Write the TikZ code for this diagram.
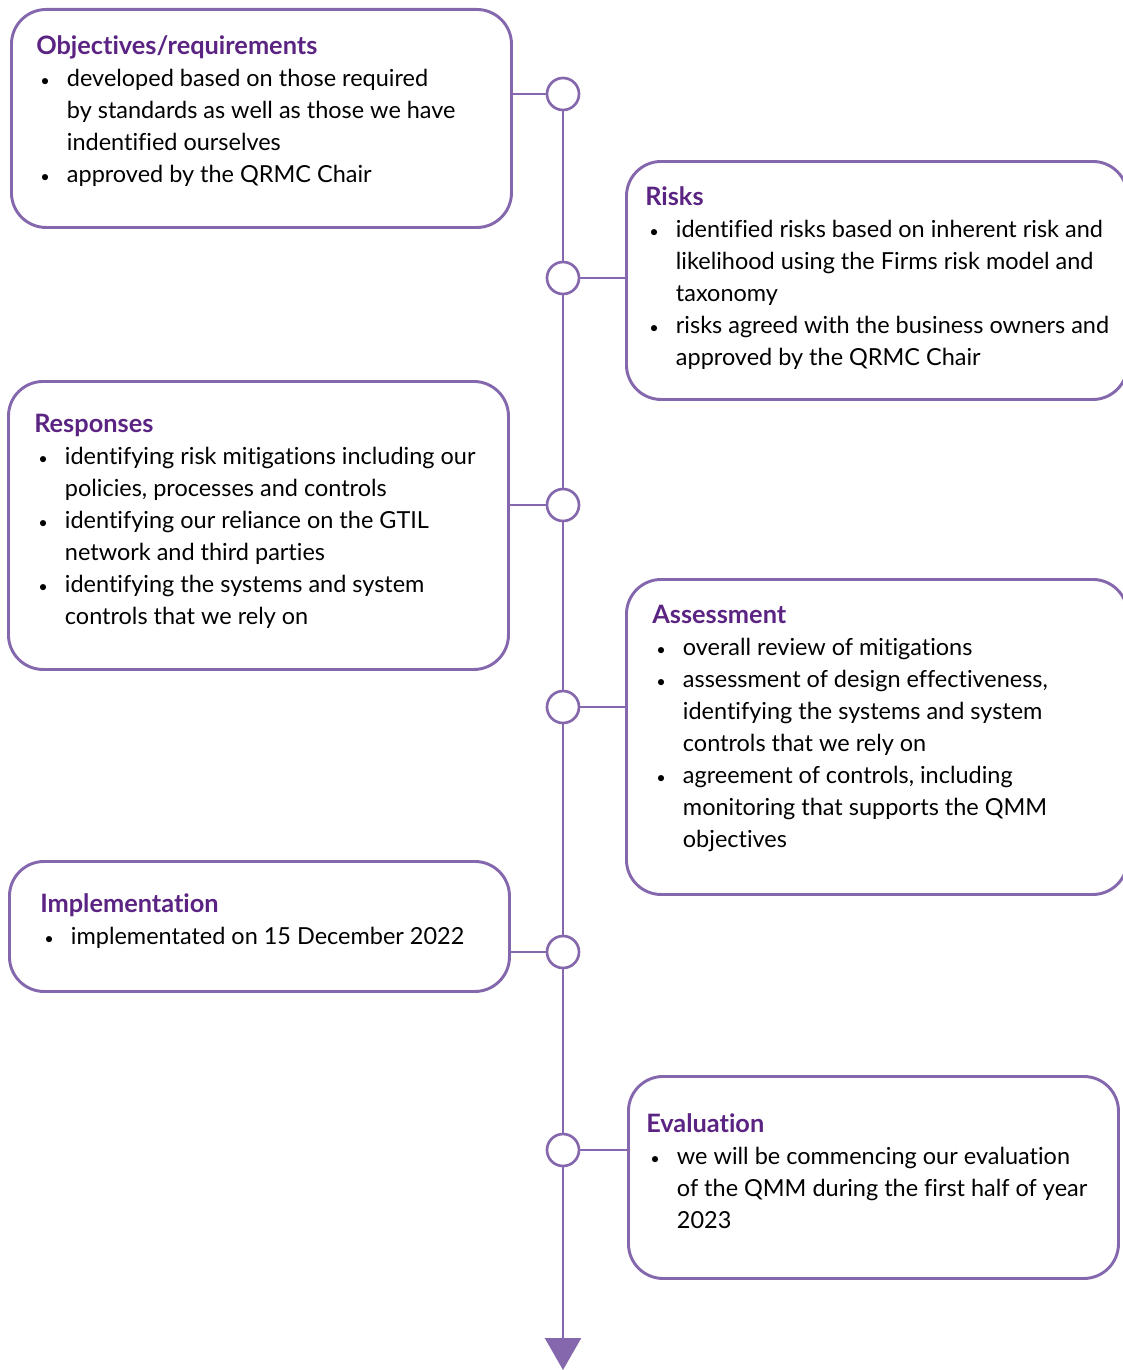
\documentclass[tikz,border=0pt]{standalone}
\usepackage{fontspec}
\setmainfont{Lato}[Ligatures=NoCommon]
\usepackage{xcolor}
\usepackage{graphicx}
\usepackage{tikz}
\usetikzlibrary{arrows.meta}

\definecolor{gtline}{HTML}{8467AD}
\definecolor{gttitle}{HTML}{5B2483}
\newcommand{\bl}{\makebox[23pt][l]{\hspace{3pt}\scalebox{0.7}{\textbullet}}}
\newcommand{\ind}{\hspace*{23pt}}
\newcommand{\hd}[1]{{\fontsize{19}{24}\selectfont\bfseries\color{gttitle}#1}}

\tikzset{
  stagebox/.style={draw=gtline, line width=2.2pt, rounded corners=26pt, anchor=north west, inner sep=0pt},
  stagedot/.style={circle, draw=gtline, fill=white, line width=2pt, minimum size=24pt, inner sep=0pt},
  tl/.style={draw=gtline, line width=2pt},
  stagetext/.style={anchor=north west, align=left, inner sep=0pt, font=\fontsize{17.6}{24}\selectfont}
}

\begin{document}
\begin{tikzpicture}[x=0.75pt,y=0.75pt,yscale=-1,xscale=1]
\useasboundingbox (0,0) rectangle (1123,1370);

%Shape: Rounded Rectangle [id:obj]
\node (obj) [stagebox, minimum width=375pt, minimum height=163.5pt] at (10,8) {};
%Shape: Rounded Rectangle [id:risk]
\node (risk) [stagebox, minimum width=375.75pt, minimum height=178.5pt] at (625,160) {};
%Shape: Rounded Rectangle [id:resp]
\node (resp) [stagebox, minimum width=375pt, minimum height=216pt] at (7,380) {};
%Shape: Rounded Rectangle [id:asmt]
\node (asmt) [stagebox, minimum width=375.75pt, minimum height=236.25pt] at (625,578) {};
%Shape: Rounded Rectangle [id:impl]
\node (impl) [stagebox, minimum width=375pt, minimum height=97.5pt] at (8,860) {};
%Shape: Rounded Rectangle [id:eval]
\node (eval) [stagebox, minimum width=367.5pt, minimum height=151.5pt] at (627,1075) {};

%Shape: Circle [id:c1..c6]
\node (c1) [stagedot] at (563,94) {};
\node (c2) [stagedot] at (563,278) {};
\node (c3) [stagedot] at (563,505) {};
\node (c4) [stagedot] at (563,707) {};
\node (c5) [stagedot] at (563,952) {};
\node (c6) [stagedot] at (563,1150) {};
\coordinate (tlend) at (563,1370);

%Straight Lines [id:timeline]
\foreach \a/\b in {c1/c2,c2/c3,c3/c4,c4/c5,c5/c6}
  \draw[tl] (\a.south) -- (\b.north);
\draw[tl, -{Triangle[width=27pt,length=24pt]}] (c6.south) -- (tlend);

%Straight Lines [id:links]
\draw[tl] (c1.west -| obj.east) -- (c1.west);
\draw[tl] (c2.east) -- (c2.east -| risk.west);
\draw[tl] (c3.west -| resp.east) -- (c3.west);
\draw[tl] (c4.east) -- (c4.east -| asmt.west);
\draw[tl] (c5.west -| impl.east) -- (c5.west);
\draw[tl] (c6.east) -- (c6.east -| eval.west);

% Text Node
\node (objtxt) [stagetext] at (36,35) {\hd{Objectives/requirements}\\
\bl developed based on those required\\
\ind by standards as well as those we have\\
\ind indentified ourselves\\
\bl approved by the QRMC Chair};
% Text Node
\node (risktxt) [stagetext] at (645,186) {\hd{Risks}\\
\bl identified risks based on inherent risk and\\
\ind likelihood using the Firms risk model and\\
\ind taxonomy\\
\bl risks agreed with the business owners and\\
\ind approved by the QRMC Chair};
% Text Node
\node (resptxt) [stagetext] at (34,414) {\hd{Responses}\\
\bl identifying risk mitigations including our\\
\ind policies, processes and controls\\
\bl identifying our reliance on the GTIL\\
\ind network and third parties\\
\bl identifying the systems and system\\
\ind controls that we rely on};
% Text Node
\node (asmttxt) [stagetext] at (652,605) {\hd{Assessment}\\
\bl overall review of mitigations\\
\bl assessment of design effectiveness,\\
\ind identifying the systems and system\\
\ind controls that we rely on\\
\bl agreement of controls, including\\
\ind monitoring that supports the QMM\\
\ind objectives};
% Text Node
\node (impltxt) [stagetext] at (40,893) {\hd{Implementation}\\
\bl implementated on 15 December 2022};
% Text Node
\node (evaltxt) [stagetext] at (646,1113) {\hd{Evaluation}\\
\bl we will be commencing our evaluation\\
\ind of the QMM during the first half of year\\
\ind 2023};

\end{tikzpicture}
\end{document}
